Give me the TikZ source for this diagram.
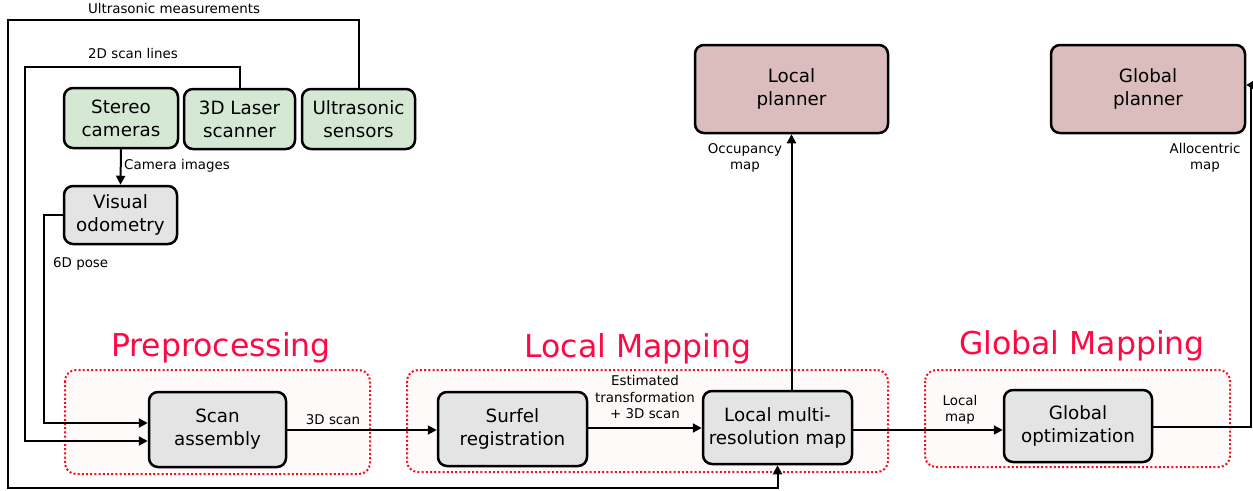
\documentclass[tikz,border=0pt]{standalone}
\usepackage{fontspec}
\setmainfont{DejaVu Sans}
\usetikzlibrary{arrows.meta,calc}
\definecolor{sensorfill}{HTML}{D5E8D4}
\definecolor{procfill}{HTML}{E4E4E4}
\definecolor{planfill}{HTML}{DBBDBD}
\definecolor{groupfill}{HTML}{FFFAFA}
\definecolor{groupred}{HTML}{F01020}
\definecolor{titlered}{HTML}{FF0844}
\begin{document}
\begin{tikzpicture}[x=1pt,y=-1pt,
  box/.style={draw=black, line width=2.5pt, rounded corners=9pt, align=center,
    inner sep=0pt, font=\fontsize{18.3}{23}\selectfont},
  sensor/.style={box, fill=sensorfill},
  proc/.style={box, fill=procfill},
  plan/.style={box, fill=planfill},
  group/.style={draw=groupred, fill=groupfill, line width=2pt,
    dash pattern=on 2pt off 2.2pt, rounded corners=11pt},
  grouptitle/.style={text=titlered, font=\fontsize{31.5}{36}\selectfont, inner sep=0pt},
  conn/.style={draw=black, line width=2pt},
  arr/.style={conn, -{Triangle[length=9pt,width=9pt]}},
  lbl/.style={font=\fontsize{13.4}{16.5}\selectfont, align=center, inner sep=0pt}
]
\useasboundingbox (0,0) rectangle (1253,490);

% grouping frames
\draw[group] (65,370) rectangle (370,474);
\draw[group] (407,370) rectangle (888,472);
\draw[group] (925,370) rectangle (1230,467);
\node[grouptitle] (tpre) at (221,348) {Preprocessing};
\node[grouptitle] (tloc) at (638,349) {Local Mapping};
\node[grouptitle] (tglo) at (1082,346) {Global Mapping};

% sensors
\node[sensor, minimum width=114pt, minimum height=60pt] (stereo) at (121,118) {Stereo\\cameras};
\node[sensor, minimum width=111pt, minimum height=60pt] (laser) at (239.5,119) {3D Laser\\scanner};
\node[sensor, minimum width=113pt, minimum height=60pt] (us) at (358.5,119) {Ultrasonic\\sensors};

% processing blocks
\node[proc, minimum width=113pt, minimum height=58pt] (vo) at (120.5,215) {Visual\\odometry};
\node[proc, minimum width=137pt, minimum height=75pt] (scan) at (217.5,429.5) {Scan\\assembly};
\node[proc, minimum width=149pt, minimum height=74pt] (surfel) at (512.5,429) {Surfel\\registration};
\node[proc, minimum width=149pt, minimum height=73pt] (lmap) at (777.5,427.5) {Local multi-\\resolution map};
\node[proc, minimum width=148pt, minimum height=72pt] (gopt) at (1078,426) {Global\\optimization};

% planners
\node[plan, minimum width=193pt, minimum height=88pt] (lplan) at (791.5,89) {Local\\planner};
\node[plan, minimum width=194pt, minimum height=88pt] (gplan) at (1148,89) {Global\\planner};

% routing points
\coordinate (um1) at (8,20);
\coordinate (um2) at (8,488);
\coordinate (sl1) at (25,67);
\coordinate (sl2) at (25,441);
\coordinate (vp1) at (44,215);
\coordinate (vp2) at (44,423);
\coordinate (gr1) at (1251,427);
\coordinate (gr2) at (1251,85);

% connectors
\draw[arr] (us.north) |- (um1) -- (um2) -| (lmap.south);
\draw[arr] (laser.north) |- (sl1) -- (sl2) -- (sl2 -| scan.west);
\draw[arr] (stereo.south) -- (vo.north);
\draw[arr] (vo.west) -- (vp1) -- (vp2) -- (vp2 -| scan.west);
\draw[arr] (scan.east |- 0,430) -- (surfel.west |- 0,430);
\draw[arr] (surfel.east |- 0,428) -- (lmap.west |- 0,428);
\draw[arr] (lmap.east |- 0,430) -- (gopt.west |- 0,430);
\draw[arr] (lmap.north -| lplan.south) -- (lplan.south);
\draw[conn, -{Triangle[length=7pt,width=8pt]}] (gopt.east |- gr1) -- (gr1) -- (gr2) -- (gr2 -| gplan.east);

% connector labels
\node[lbl] (lum) at (174,9) {Ultrasonic measurements};
\node[lbl] (lsl) at (133,54) {2D scan lines};
\node[lbl, anchor=west] (lci) at (124,166) {Camera images};
\node[lbl, anchor=west] (lpose) at (53,264) {6D pose};
\node[lbl] (l3d) at (333,420) {3D scan};
\node[lbl] (ltr) at (645,397) {Estimated\\transformation\\+ 3D scan};
\node[lbl] (llm) at (960,410) {Local\\map};
\node[lbl] (locc) at (745,158) {Occupancy\\map};
\node[lbl] (lall) at (1205,158) {Allocentric\\map};
\end{tikzpicture}
\end{document}
